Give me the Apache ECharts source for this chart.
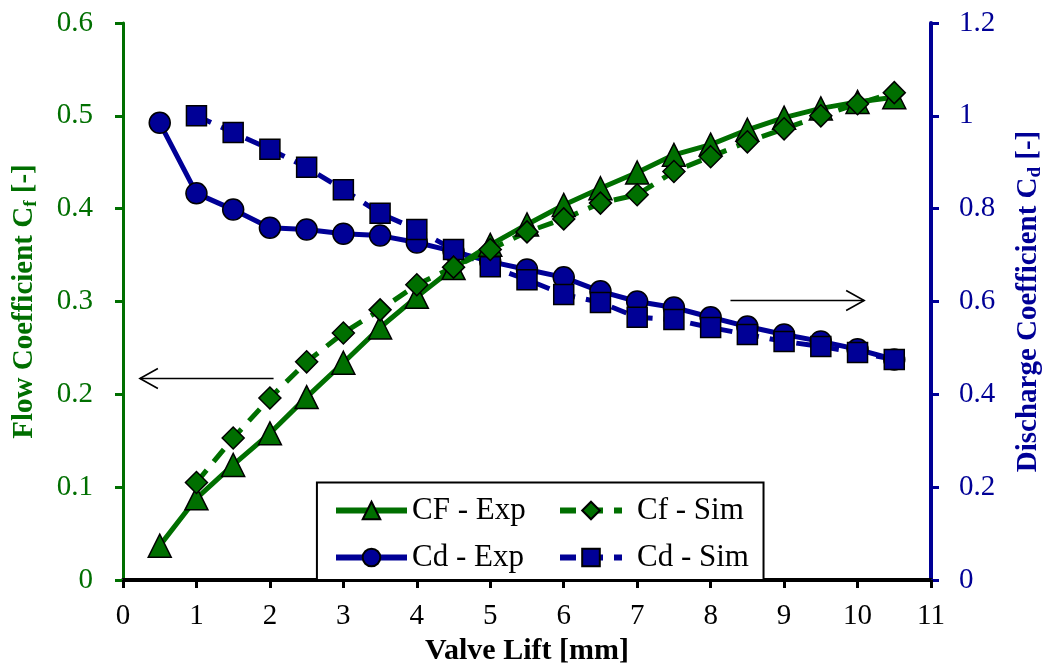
<!DOCTYPE html>
<html>
<head>
<meta charset="utf-8">
<script src="https://cdn.jsdelivr.net/npm/echarts@6/dist/echarts.min.js"></script>
<style>
  html, body { margin: 0; padding: 0; background: #fff; }
  #chart { width: 1053px; height: 671px; }
</style>
</head>
<body>
<div id="chart"></div>
<script>
// valve lift [mm]
const liftExp = [0.5, 1, 1.5, 2, 2.5, 3, 3.5, 4, 4.5, 5, 5.5, 6, 6.5, 7, 7.5, 8, 8.5, 9, 9.5, 10, 10.5];
const liftSim = [1, 1.5, 2, 2.5, 3, 3.5, 4, 4.5, 5, 5.5, 6, 6.5, 7, 7.5, 8, 8.5, 9, 9.5, 10, 10.5];

// flow coefficient (left axis)
const cfExp = [0.037, 0.088, 0.124, 0.158, 0.197, 0.234, 0.272, 0.305, 0.336, 0.361, 0.383, 0.404, 0.422, 0.439, 0.458, 0.469, 0.485, 0.498, 0.508, 0.515, 0.520];
const cfSim = [0.105, 0.153, 0.196, 0.235, 0.266, 0.291, 0.318, 0.337, 0.356, 0.375, 0.389, 0.406, 0.415, 0.440, 0.456, 0.472, 0.486, 0.500, 0.513, 0.525];

// discharge coefficient (right axis)
const cdExp = [0.985, 0.833, 0.798, 0.759, 0.755, 0.746, 0.742, 0.727, 0.708, 0.686, 0.669, 0.652, 0.622, 0.600, 0.587, 0.566, 0.546, 0.529, 0.514, 0.497, 0.475];
const cdSim = [1.0, 0.964, 0.928, 0.889, 0.841, 0.790, 0.755, 0.712, 0.675, 0.647, 0.615, 0.598, 0.566, 0.561, 0.544, 0.529, 0.514, 0.503, 0.490, 0.475];

const GREEN = '#006f00';
const BLUE = '#000096';
const FONT = '"Liberation Serif", "Times New Roman", serif';

const pairs = (xs, ys) => xs.map((x, i) => [x, ys[i]]);

const chart = echarts.init(document.getElementById('chart'));

const lineSeries = (name, xs, ys, color, dashed, symbol, size, yIdx) => ({
  name: name,
  type: 'line',
  yAxisIndex: yIdx,
  data: pairs(xs, ys),
  symbol: symbol,
  symbolSize: size,
  showAllSymbol: true,
  animation: false,
  lineStyle: { color: color, width: 5, type: dashed ? [16, 11] : 'solid' },
  itemStyle: { color: color, borderColor: '#000', borderWidth: 1.5 }
});

const legendText = { fontFamily: FONT, fontSize: 31, color: '#000', lineHeight: 30 };

const option = {
  backgroundColor: '#fff',
  animation: false,
  grid: { left: 123, right: 118, top: 23, bottom: 90 },
  xAxis: {
    type: 'value',
    min: 0, max: 11, interval: 1,
    name: 'Valve Lift [mm]',
    nameLocation: 'middle',
    nameGap: 56,
    nameTextStyle: { fontFamily: FONT, fontSize: 30, fontWeight: 'bold', color: '#000' },
    axisLine: { show: true, lineStyle: { color: '#000', width: 4 } },
    axisTick: { show: true, length: 8, lineStyle: { color: '#000', width: 3 } },
    axisLabel: { fontFamily: FONT, fontSize: 29, color: '#000', margin: 22 },
    splitLine: { show: false }
  },
  yAxis: [
    {
      type: 'value',
      position: 'left',
      min: 0, max: 0.6, interval: 0.1,
      name: 'Flow Coefficient C{sub|f} [-]',
      nameLocation: 'middle',
      nameGap: 82,
      nameTextStyle: {
        fontFamily: FONT, fontSize: 29, fontWeight: 'bold', color: GREEN,
        rich: { sub: { fontFamily: FONT, fontSize: 19, fontWeight: 'bold', color: GREEN, verticalAlign: 'bottom', padding: [14, 0, 0, 0] } }
      },
      axisLine: { show: true, lineStyle: { color: GREEN, width: 3 } },
      axisTick: { show: true, length: 8, lineStyle: { color: GREEN, width: 3 } },
      axisLabel: { fontFamily: FONT, fontSize: 29, color: GREEN, margin: 30 },
      splitLine: { show: false }
    },
    {
      type: 'value',
      position: 'right',
      min: 0, max: 1.2, interval: 0.2,
      name: 'Discharge Coefficient C{sub|d} [-]',
      nameLocation: 'middle',
      nameGap: 81,
      nameTextStyle: {
        fontFamily: FONT, fontSize: 29, fontWeight: 'bold', color: BLUE,
        rich: { sub: { fontFamily: FONT, fontSize: 19, fontWeight: 'bold', color: BLUE, verticalAlign: 'bottom', padding: [14, 0, 0, 0] } }
      },
      axisLine: { show: true, lineStyle: { color: BLUE, width: 4 } },
      axisTick: { show: true, length: 8, lineStyle: { color: BLUE, width: 3 } },
      axisLabel: { fontFamily: FONT, fontSize: 29, color: BLUE, margin: 28 },
      splitLine: { show: false }
    }
  ],
  legend: [
    {
      data: ['CF - Exp', 'Cd - Exp'],
      orient: 'vertical',
      left: 333, top: 495,
      padding: 0, z: 10,
      itemWidth: 71, itemHeight: 22, itemGap: 16,
      lineStyle: { width: 6 },
      textStyle: legendText
    },
    {
      data: ['Cf - Sim', 'Cd - Sim'],
      orient: 'vertical',
      left: 557, top: 495,
      padding: 0, z: 10,
      itemWidth: 62, itemHeight: 22, itemGap: 16,
      lineStyle: { width: 6 },
      textStyle: Object.assign({}, legendText, { padding: [0, 0, 0, 10] })
    }
  ],
  series: [
    lineSeries('Cd - Exp', liftExp, cdExp, BLUE, false, 'circle', 21, 1),
    lineSeries('Cd - Sim', liftSim, cdSim, BLUE, true, 'rect', 20, 1),
    lineSeries('CF - Exp', liftExp, cfExp, GREEN, false, 'triangle', 23, 0),
    lineSeries('Cf - Sim', liftSim, cfSim, GREEN, true, 'diamond', 22, 0)
  ]
};

chart.setOption(option);

// legend frame and the two arrows pointing at their axes
const px = (x, y, yIdx) => chart.convertToPixel({ xAxisIndex: 0, yAxisIndex: yIdx }, [x, y]);

const arrow = (from, to) => {
  const dx = to[0] - from[0];
  const dir = dx > 0 ? 1 : -1;
  return [
    { type: 'polyline', z: 100, shape: { points: [from, to] }, style: { stroke: '#000', lineWidth: 1.6, fill: null } },
    { type: 'polyline', z: 100, shape: { points: [[to[0] - dir * 18, to[1] - 10], to, [to[0] - dir * 18, to[1] + 10]] }, style: { stroke: '#000', lineWidth: 1.6, fill: null } }
  ];
};

const legTL = px(2.64, 0.105, 0);
const legBR = px(8.72, 0, 0);

chart.setOption({
  graphic: [
    {
      type: 'rect', z: 3,
      shape: { x: legTL[0], y: legTL[1], width: legBR[0] - legTL[0], height: legBR[1] - legTL[1] },
      style: { fill: '#fff', stroke: '#000', lineWidth: 2 }
    },
    ...arrow(px(2.05, 0.217, 0), px(0.23, 0.217, 0)),
    ...arrow(px(8.27, 0.602, 1), px(10.09, 0.602, 1))
  ]
});

window.addEventListener('resize', () => {
  chart.resize();
});
</script>
</body>
</html>
